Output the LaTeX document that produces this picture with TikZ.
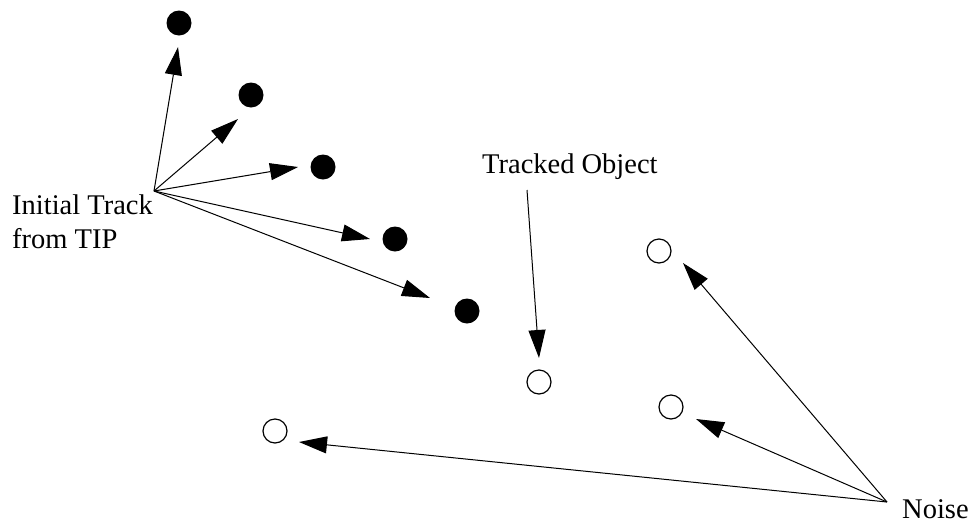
\documentclass[tikz,border=0pt]{standalone}
\usepackage{fontspec}
\setmainfont{Liberation Serif}
\usetikzlibrary{arrows.meta}
\begin{document}
\begin{tikzpicture}[x=1pt,y=-1pt,
  dot/.style={circle,fill=black,draw=none,minimum size=25pt,inner sep=0pt},
  hole/.style={circle,draw=black,line width=1.2pt,fill=white,minimum size=24pt,inner sep=0pt},
  arr/.style={line width=1pt,-{Triangle[length=28pt,width=17pt]}},
  lbl/.style={inner sep=0pt,font=\fontsize{28.5}{33.5}\selectfont}]
\useasboundingbox (0,0) rectangle (972,523);
% filled dots
\node[dot] (d1) at (179,23) {};
\node[dot] (d2) at (251,95) {};
\node[dot] (d3) at (323,167) {};
\node[dot] (d4) at (395,239) {};
\node[dot] (d5) at (467,311) {};
% open circles
\node[hole] (tobj) at (539,382) {};
\node[hole] (n1) at (659,251) {};
\node[hole] (n2) at (671,407) {};
\node[hole] (n3) at (275,431) {};
% labels
\node[lbl,anchor=base west,align=left] (init) at (12,248) {Initial Track\\from TIP};
\node[lbl,anchor=base west] (track) at (482,173) {Tracked Object};
\node[lbl,anchor=base west] (noise) at (902,518) {Noise};
% connector origins and tips
\coordinate (io) at (154,191);
\coordinate (t1) at (178,47);
\coordinate (t2) at (238,119);
\coordinate (t3) at (298,167);
\coordinate (t4) at (370,239);
\coordinate (t5) at (430,298);
\coordinate (to) at (527,190);
\coordinate (tt) at (539,358);
\coordinate (no) at (887,502);
\coordinate (tn1) at (683,263);
\coordinate (tn2) at (696,419);
\coordinate (tn3) at (299,442);
% arrows
\draw[arr] (io) -- (t1);
\draw[arr] (io) -- (t2);
\draw[arr] (io) -- (t3);
\draw[arr] (io) -- (t4);
\draw[arr] (io) -- (t5);
\draw[arr] (to) -- (tt);
\draw[arr] (no) -- (tn1);
\draw[arr] (no) -- (tn2);
\draw[arr] (no) -- (tn3);
\end{tikzpicture}
\end{document}
